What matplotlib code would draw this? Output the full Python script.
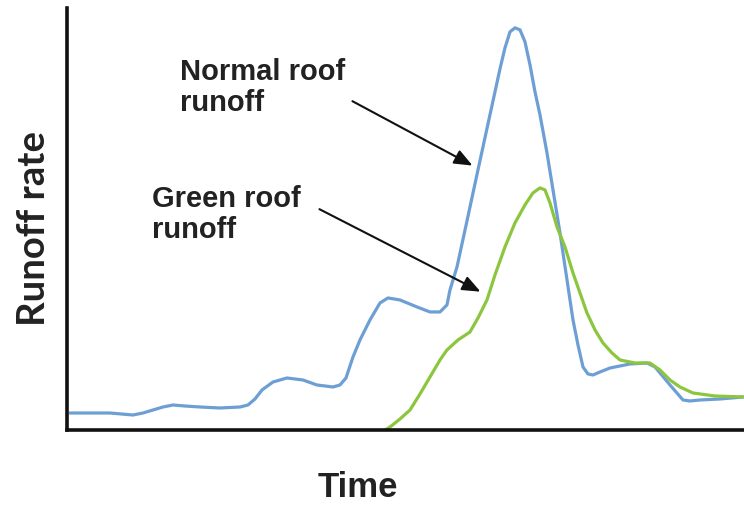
#runoff rate vs time, normal roof and green roof
import numpy as np
import matplotlib
matplotlib.use('Agg')
import matplotlib.pyplot as plt

#normal roof runoff (time, rate) - arbitrary units
normalTime=[3,23,43,66,76,86,96,106,118,133,153,173,181,188,195,206,220,236,250,266,273,279,286,293,
	303,313,321,333,350,363,373,380,383,390,400,411,421,428,433,438,443,448,453,458,463,468,473,480,
	493,506,511,516,521,526,533,543,563,580,588,593,603,616,623,633,653,676]
normalRate=[17,17,17,15,17,20,23,25,24,23,22,23,25,31,40,48,52,50,45,43,45,52,73,90,
	110,127,132,130,123,118,118,125,140,163,209,260,306,338,361,382,398,402,400,388,365,338,315,277,
	197,110,85,63,56,55,58,62,66,67,63,57,45,30,29,30,31,33]
#green roof runoff (time, rate)
greenTime=[318,323,333,343,353,363,373,380,391,403,411,420,428,438,448,458,466,473,478,483,490,498,
	506,513,520,528,536,545,553,568,583,593,603,613,626,648,676]
greenRate=[0,3,11,20,36,53,70,80,90,98,112,130,155,183,207,225,237,242,240,227,203,183,
	157,137,117,100,87,77,70,67,67,60,50,43,37,34,33]

labels=['Normal roof\nrunoff','Green roof\nrunoff']

fig=plt.figure(figsize=(7.44,5.05),dpi=100)
ax=fig.add_axes([0.090,0.1485,0.91,0.836])

ax.plot(normalTime,normalRate,color='#6d9fd5',lw=2.3,solid_capstyle='round',solid_joinstyle='round')
ax.plot(greenTime,greenRate,color='#8cc63f',lw=2.3,solid_capstyle='round',solid_joinstyle='round')

ax.set_xlim(0,677)
ax.set_ylim(0,422)
ax.set_xticks([])
ax.set_yticks([])
for s in ['top','right']:
	ax.spines[s].set_visible(False)
for s in ['left','bottom']:
	ax.spines[s].set_linewidth(2.6)
	ax.spines[s].set_color('#111111')

#labels with arrows
aprops=dict(arrowstyle='-|>,head_length=1.1,head_width=0.45',color='#111111',lw=1.5)
ax.text(113,372,labels[0],fontsize=21,fontweight='bold',family='Liberation Sans',
	color='#222222',va='top',ha='left',linespacing=1.15)
ax.annotate('',xy=(408,263),xytext=(283,330),arrowprops=aprops)
ax.text(85,245,labels[1],fontsize=21,fontweight='bold',family='Liberation Sans',
	color='#222222',va='top',ha='left',linespacing=1.15)
ax.annotate('',xy=(416,137),xytext=(250,222),arrowprops=aprops)

#axis titles
fig.text(358/744,1-497/505,'Time',fontsize=25,fontweight='bold',family='Liberation Sans',
	color='#222222',ha='center',va='baseline')
fig.text(34/744,1-228/505,'Runoff rate',fontsize=27.5,fontweight='bold',family='Lato',
	color='#222222',ha='center',va='center',rotation=90)

fig.savefig('out.png',dpi=100)
